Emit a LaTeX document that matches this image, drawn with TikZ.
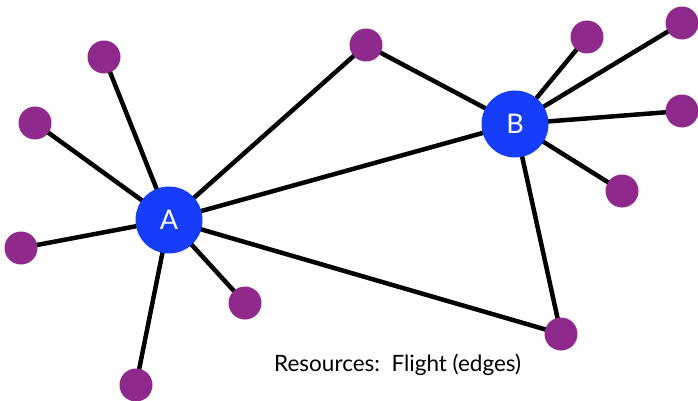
\documentclass[tikz,border=0pt]{standalone}
\usepackage{fontspec}
\setmainfont{Lato}
\usetikzlibrary{backgrounds}
\definecolor{hubblue}{RGB}{22,62,250}
\definecolor{leafpurple}{RGB}{143,41,140}
\tikzset{
  hub/.style={circle, fill=hubblue, minimum size=67pt, inner sep=0pt, text=white, font=\fontsize{27}{27}\selectfont},
  leaf/.style={circle, fill=leafpurple, minimum size=33pt, inner sep=0pt},
  edge/.style={draw=black, line width=4.5pt}
}
\begin{document}
\begin{tikzpicture}[x=1pt,y=-1pt]
\useasboundingbox (0,0) rectangle (698,401);
\node[hub] (A) at (169,220) {A};
\node[hub] (B) at (515,124) {B};
\node[leaf] (l1) at (104,57) {};
\node[leaf] (l2) at (35,123) {};
\node[leaf] (l3) at (21,248) {};
\node[leaf] (l4) at (245,303) {};
\node[leaf] (l5) at (136,385) {};
\node[leaf] (l6) at (366,45) {};
\node[leaf] (l7) at (587,37) {};
\node[leaf] (l8) at (682,23) {};
\node[leaf] (l9) at (682,111) {};
\node[leaf] (l10) at (622,191) {};
\node[leaf] (l11) at (561,334) {};
\begin{pgfonlayer}{background}
\foreach \n in {l1,l2,l3,l4,l5,l6,l11,B} \draw[edge] (A.center) -- (\n.center);
\foreach \n in {l6,l7,l8,l9,l10,l11} \draw[edge] (B.center) -- (\n.center);
\end{pgfonlayer}
\node[anchor=base west, inner sep=0pt, font=\fontsize{22.5}{22.5}\selectfont] (res) at (274,371) {Resources:\ \ Flight (edges)};
\end{tikzpicture}
\end{document}
